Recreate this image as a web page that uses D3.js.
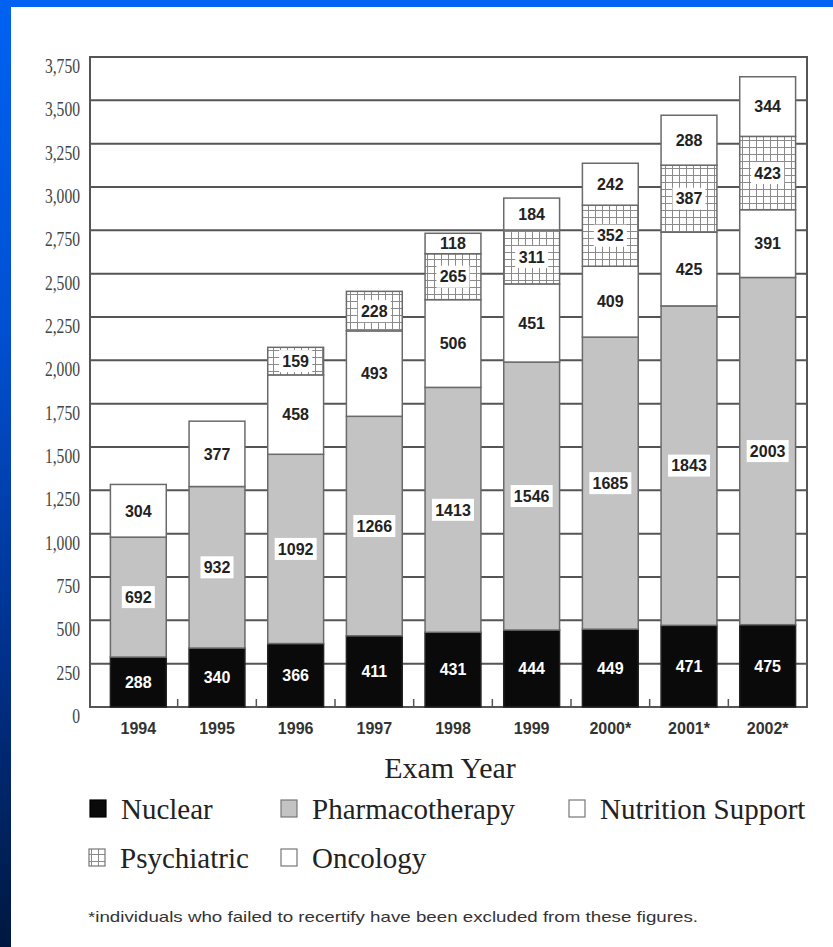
<!DOCTYPE html>
<html>
<head>
<meta charset="utf-8">
<script src="https://cdn.jsdelivr.net/npm/d3@7"></script>
<style>
  html, body { margin: 0; padding: 0; background: #fff; }
  svg { display: block; }
</style>
</head>
<body>
<svg id="chart" width="833" height="947"></svg>
<script>
// ---- Data ----
const years = ["1994", "1995", "1996", "1997", "1998", "1999", "2000*", "2001*", "2002*"];
const seriesNames = ["Nuclear", "Pharmacotherapy", "Nutrition Support", "Psychiatric", "Oncology"];
const nuclear = [288, 340, 366, 411, 431, 444, 449, 471, 475];
const pharmacotherapy = [692, 932, 1092, 1266, 1413, 1546, 1685, 1843, 2003];
const nutritionSupport = [304, 377, 458, 493, 506, 451, 409, 425, 391];
const psychiatric = [0, 0, 159, 228, 265, 311, 352, 387, 423];
const oncology = [0, 0, 0, 0, 118, 184, 242, 288, 344];
const yTicks = [0, 250, 500, 750, 1000, 1250, 1500, 1750, 2000, 2250, 2500, 2750, 3000, 3250, 3500, 3750];
const footnote = "*individuals who failed to recertify have been excluded from these figures.";
const xTitle = "Exam Year";

const seriesValues = [nuclear, pharmacotherapy, nutritionSupport, psychiatric, oncology];
const rows = years.map((y, i) => {
  const r = { year: y };
  seriesNames.forEach((s, k) => r[s] = seriesValues[k][i]);
  return r;
});

const svg = d3.select("#chart");
const W = 833, H = 947;

// ---- Background & blue frame ----
const defs = svg.append("defs");
const grad = defs.append("linearGradient").attr("id", "leftGrad")
  .attr("x1", 0).attr("y1", 0).attr("x2", 0).attr("y2", 1);
grad.append("stop").attr("offset", "0%").attr("stop-color", "#0062f2");
grad.append("stop").attr("offset", "35%").attr("stop-color", "#0050d2");
grad.append("stop").attr("offset", "70%").attr("stop-color", "#00308a");
grad.append("stop").attr("offset", "100%").attr("stop-color", "#001840");

svg.append("rect").attr("width", W).attr("height", H).attr("fill", "#ffffff");
svg.append("rect").attr("x", 0).attr("y", 0).attr("width", W).attr("height", 7).attr("fill", "#0062f2");
svg.append("rect").attr("x", 0).attr("y", 0).attr("width", 11).attr("height", H).attr("fill", "url(#leftGrad)");

// Psychiatric grid pattern
const pat = defs.append("pattern").attr("id", "psychPat")
  .attr("patternUnits", "userSpaceOnUse").attr("width", 7).attr("height", 7);
pat.append("rect").attr("width", 7).attr("height", 7).attr("fill", "#ffffff");
pat.append("path").attr("d", "M0,0.5H7M0.5,0V7").attr("stroke", "#8a8a8a").attr("stroke-width", 1);

const fills = {
  "Nuclear": "#0a0a0a",
  "Pharmacotherapy": "#c3c3c3",
  "Nutrition Support": "#ffffff",
  "Psychiatric": "url(#psychPat)",
  "Oncology": "#ffffff"
};

// ---- Scales ----
const plotL = 90, plotR = 807, plotT = 57, plotB = 707;
const y = d3.scaleLinear().domain([0, 3750]).range([plotB, plotT]);
const x = d3.scaleBand().domain(years).range([99, plotR]).paddingInner(0.29).paddingOuter(0.145);

// ---- Gridlines ----
svg.append("g").selectAll("line").data(yTicks.filter(t => t > 0)).join("line")
  .attr("x1", plotL).attr("x2", plotR)
  .attr("y1", d => y(d)).attr("y2", d => y(d))
  .attr("stroke", "#555").attr("stroke-width", 2);

// Frame: left axis, right border, bottom
svg.append("line").attr("x1", plotL).attr("x2", plotL).attr("y1", plotT - 1).attr("y2", plotB + 1)
  .attr("stroke", "#555").attr("stroke-width", 2);
svg.append("line").attr("x1", plotR).attr("x2", plotR).attr("y1", plotT - 1).attr("y2", plotB + 1)
  .attr("stroke", "#555").attr("stroke-width", 2);
svg.append("line").attr("x1", plotL).attr("x2", plotR).attr("y1", plotB).attr("y2", plotB)
  .attr("stroke", "#555").attr("stroke-width", 2);

// Small ticks between bars
const step = x.step();
svg.append("g").selectAll("line").data(years.slice(1)).join("line")
  .attr("x1", d => x(d) - step * x.paddingInner() / 2)
  .attr("x2", d => x(d) - step * x.paddingInner() / 2)
  .attr("y1", plotB - 8).attr("y2", plotB)
  .attr("stroke", "#555").attr("stroke-width", 1.5);

// ---- Stacked bars ----
const stack = d3.stack().keys(seriesNames);
const stacked = stack(rows);

const barG = svg.append("g");
stacked.forEach(layer => {
  const key = layer.key;
  barG.append("g").selectAll("rect").data(layer.filter(d => d[1] - d[0] > 0)).join("rect")
    .attr("x", d => x(d.data.year))
    .attr("width", x.bandwidth())
    .attr("y", d => y(d[1]))
    .attr("height", d => y(d[0]) - y(d[1]))
    .attr("fill", fills[key])
    .attr("stroke", key === "Nuclear" ? "#222" : "#6a6a6a")
    .attr("stroke-width", 1.5);
});

// ---- Segment labels ----
const labG = svg.append("g");
stacked.forEach(layer => {
  const key = layer.key;
  layer.filter(d => d[1] - d[0] > 0).forEach(d => {
    const cx = x(d.data.year) + x.bandwidth() / 2;
    const cy = (y(d[0]) + y(d[1])) / 2;
    const val = d[1] - d[0];
    const txt = String(val);
    if (key === "Pharmacotherapy" || key === "Psychiatric") {
      const w = txt.length * 9 + 6;
      labG.append("rect").attr("x", cx - w / 2).attr("y", cy - 11).attr("width", w).attr("height", 22)
        .attr("fill", "#ffffff");
    }
    labG.append("text")
      .attr("x", cx).attr("y", cy)
      .attr("dy", "0.36em")
      .attr("text-anchor", "middle")
      .attr("font-family", "Liberation Sans, Arial, sans-serif")
      .attr("font-weight", "bold")
      .attr("font-size", 16)
      .attr("fill", key === "Nuclear" ? "#ffffff" : "#222")
      .text(txt);
  });
});

// ---- Y axis labels (condensed serif) ----
svg.append("g").selectAll("text").data(yTicks).join("text")
  .attr("transform", d => `translate(80,${y(d) + 9}) scale(0.78,1)`)
  .attr("dy", "0.35em")
  .attr("text-anchor", "end")
  .attr("font-family", "Liberation Serif, Times New Roman, serif")
  .attr("font-size", 20)
  .attr("fill", "#444")
  .text(d => d3.format(",")(d));

// ---- X axis labels ----
svg.append("g").selectAll("text").data(years).join("text")
  .attr("x", d => x(d) + x.bandwidth() / 2).attr("y", 728)
  .attr("dy", "0.35em")
  .attr("text-anchor", "middle")
  .attr("font-family", "Liberation Sans, Arial, sans-serif")
  .attr("font-weight", "bold")
  .attr("font-size", 16)
  .attr("fill", "#333")
  .text(d => d);

svg.append("text").attr("x", 450).attr("y", 778)
  .attr("text-anchor", "middle")
  .attr("font-family", "Liberation Serif, Times New Roman, serif")
  .attr("font-size", 30)
  .attr("fill", "#222")
  .text(xTitle);

// ---- Legend ----
const legendPos = [
  { sx: 90, ty: 819 }, { sx: 281, ty: 819 }, { sx: 569, ty: 819 },
  { sx: 89, ty: 868 }, { sx: 281, ty: 868 }
];
seriesNames.forEach((s, i) => {
  const p = legendPos[i];
  svg.append("rect").attr("x", p.sx).attr("y", p.ty - 19).attr("width", 16).attr("height", 17)
    .attr("fill", fills[s])
    .attr("stroke", s === "Nuclear" ? "#000" : "#777").attr("stroke-width", 1.2);
  svg.append("text").attr("x", p.sx + 31).attr("y", p.ty)
    .attr("font-family", "Liberation Serif, Times New Roman, serif")
    .attr("font-size", 29)
    .attr("fill", "#222")
    .text(s);
});

// ---- Footnote ----
svg.append("text").attr("x", 88).attr("y", 922)
  .attr("font-family", "Liberation Sans, Arial, sans-serif")
  .attr("font-size", 15)
  .attr("textLength", 610)
  .attr("lengthAdjust", "spacingAndGlyphs")
  .attr("fill", "#333")
  .text(footnote);
</script>
</body>
</html>
